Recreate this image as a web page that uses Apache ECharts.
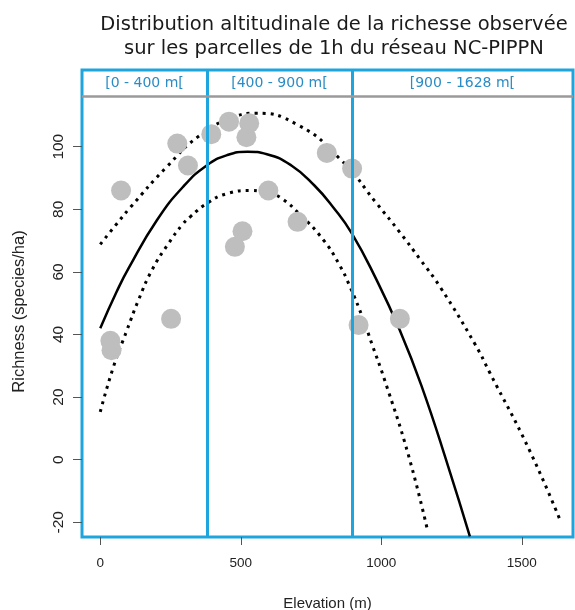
<!DOCTYPE html>
<html>
<head>
<meta charset="utf-8">
<script src="https://cdn.jsdelivr.net/npm/echarts@6/dist/echarts.min.js"></script>
<style>html,body{margin:0;padding:0;background:#fff}#c{width:575px;height:610px}</style>
</head>
<body>
<div id="c"></div>
<script>
// Observed plots
const plotElev = [36, 40, 74, 252, 274, 312, 395, 458, 479, 506, 520, 530, 598, 702, 806, 896, 919, 1066];
const plotRich = [38, 35, 86, 45, 101, 94, 104, 108, 68, 73, 103, 107.5, 86, 76, 98, 93, 43, 45];
// Fitted curve
const fitElev = [0, 59, 101, 202, 297, 380, 451, 524, 593, 680, 762, 830, 895, 980, 1065, 1143, 1238, 1315];
const fitRich = [42, 53.8, 61.2, 76.6, 87.4, 94.1, 97.3, 98.4, 97.6, 94, 87.6, 80.5, 72.3, 58, 41.5, 23.6, -2.2, -24.5];
// Upper band
const upperElev = [0, 59, 107, 237, 356, 486, 548, 702, 857, 984, 1067, 1138, 1209, 1334, 1387, 1524, 1637];
const upperRich = [68.8, 75.4, 80.6, 93.6, 103.7, 109.8, 110.7, 107, 95.7, 81.8, 72.5, 64, 55.2, 36.8, 27.6, 3.6, -19.5];
// Lower band
const lowerElev = [0, 47, 95, 136, 184, 243, 293, 320, 381, 451, 536, 600, 640, 711, 794, 848, 889, 937, 966, 1012, 1095, 1164];
const lowerRich = [15.3, 29.7, 41.4, 51, 60.6, 69.1, 75.2, 77.6, 82, 85, 86, 85, 83.8, 78.3, 70.2, 62.7, 55.2, 44.5, 37.1, 25.4, 1.9, -22.4];
// Altitude bands
const bandEdges = [-65, 380, 895, 1682];
const bandLabels = ['[0 - 400 m[', '[400 - 900 m[', '[900 - 1628 m['];
const headerBottom = 116.2, headerTop = 124.5;
const xTicks = [0, 500, 1000, 1500];
const yTicks = [-20, 0, 20, 40, 60, 80, 100];

const zip = (a, b) => a.map((v, i) => [v, b[i]]);
const BLUE = '#1fa5dd';

const chart = echarts.init(document.getElementById('c'), null, {renderer: 'canvas'});
chart.setOption({
  animation: false,
  backgroundColor: '#ffffff',
  title: {
    text: 'Distribution altitudinale de la richesse observée\nsur les parcelles de 1h du réseau NC-PIPPN',
    left: 329, top: 8, textAlign: 'center',
    textStyle: {fontFamily: 'DejaVu Sans', fontSize: 19.5, fontWeight: 'normal', color: '#1a1a1a', lineHeight: 24}
  },
  grid: {left: 82, right: 2, top: 70, bottom: 73, show: true, borderColor: BLUE, borderWidth: 3,
    backgroundColor: 'transparent', containLabel: false, outerBoundsMode: 'none'},
  xAxis: {
    type: 'value', min: bandEdges[0], max: bandEdges[3],
    name: 'Elevation (m)', nameLocation: 'middle', nameGap: 59,
    nameTextStyle: {fontFamily: 'Liberation Sans', fontSize: 15, color: '#222'},
    axisLine: {show: false, onZero: false}, splitLine: {show: false},
    axisTick: {show: true, length: 8, customValues: xTicks, lineStyle: {color: '#555', width: 1}},
    axisLabel: {customValues: xTicks, margin: 19, fontFamily: 'Liberation Sans', fontSize: 13.5, color: '#222',
      formatter: v => String(v)}
  },
  yAxis: {
    type: 'value', min: -24.7, max: headerTop,
    name: 'Richness (species/ha)', nameLocation: 'middle', nameGap: 54, nameRotate: 90,
    nameTextStyle: {fontFamily: 'Liberation Sans', fontSize: 16.5, color: '#222', padding: [0, 16, 0, 0]},
    axisLine: {show: false, onZero: false}, splitLine: {show: false},
    axisTick: {show: true, length: 9, customValues: yTicks, lineStyle: {color: '#555', width: 1}},
    axisLabel: {customValues: yTicks, rotate: 90, margin: 15, fontFamily: 'Liberation Sans', fontSize: 15.5, color: '#222',
      formatter: v => String(v)}
  },
  series: [
    {type: 'line', data: zip(upperElev, upperRich), smooth: 0.5, symbol: 'none', z: 2,
     lineStyle: {color: '#000', width: 3, type: [3, 5]}},
    {type: 'line', data: zip(lowerElev, lowerRich), smooth: 0.5, symbol: 'none', z: 2,
     lineStyle: {color: '#000', width: 3, type: [3, 5]}},
    {type: 'line', data: zip(fitElev, fitRich), smooth: 0.5, symbol: 'none', z: 2,
     lineStyle: {color: '#000', width: 2.5}},
    {type: 'scatter', data: zip(plotElev, plotRich), symbol: 'circle', symbolSize: 20, z: 3,
     itemStyle: {color: '#bebebe', opacity: 1}},
    {type: 'line', data: [], z: 5, silent: true,
     markLine: {silent: true, symbol: 'none', animation: false,
       label: {show: false},
       data: [
         {xAxis: bandEdges[1], lineStyle: {color: BLUE, width: 3, type: 'solid'}},
         {xAxis: bandEdges[2], lineStyle: {color: BLUE, width: 3, type: 'solid'}},
         {yAxis: headerBottom, lineStyle: {color: '#9a9a9a', width: 2.5, type: 'solid'}}
       ]},
     markArea: {silent: true,
       itemStyle: {color: 'rgba(0,0,0,0)'},
       label: {show: true, position: 'inside', fontFamily: 'DejaVu Sans', fontSize: 14, color: '#2b8cc4'},
       data: bandLabels.map((t, i) => [
         {name: t, xAxis: bandEdges[i], yAxis: headerBottom},
         {xAxis: bandEdges[i + 1], yAxis: headerTop}
       ])}
    }
  ]
});
</script>
</body>
</html>
